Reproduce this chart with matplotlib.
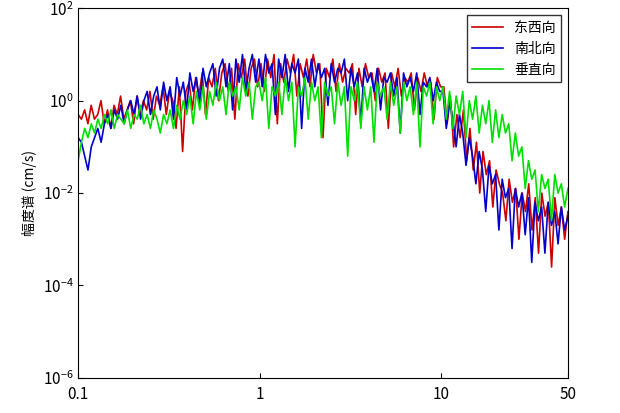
import matplotlib
matplotlib.use("Agg")
import matplotlib.pyplot as plt
import numpy as np

plt.rcParams["font.family"] = ["Noto Sans CJK SC", "DejaVu Sans"]

east_log = [
    -0.3, -0.4, -0.2, -0.5, -0.1, -0.4, -0.3, 0.0, -0.5, -0.2, -0.6, -0.1, -0.3, 0.1, -0.4, -0.2, 0.0, -0.5, 0.1, -0.3, 0.0,
    -0.2, 0.2, -0.4, 0.1, -0.1, 0.3, -0.3, 0.2, 0.0, -0.6, 0.3, -1.1, 0.2, 0.4, -0.2, 0.5, 0.1, 0.6, -0.3, 0.5,
    0.3, 0.7, 0.0, 0.6, 0.8, 0.2, 0.7, -0.4, 0.8, 0.5, 0.9, 0.1, 0.7, 0.9, 0.3,
    0.8, 0.2, 0.9, 0.5, 1.0, -0.5, 0.8, 0.4, 0.9, 0.6, 1.0, 0.1, 0.8, 0.5, 0.9, 0.3, 1.0, 0.6, 0.8, -0.8,
    0.7, 0.5, 0.9, 0.2, 0.8, 0.4, 0.7, 0.6, 0.8, -0.3, 0.7, 0.3, 0.8, 0.5, 0.6, 0.0, 0.7, 0.4, 0.6, -0.6,
    0.6, 0.3, 0.7, 0.1, 0.5, 0.4, 0.6, -0.2, 0.5, 0.2, 0.6, 0.3, 0.4, -0.4, 0.5, 0.3,
    0.3, -0.5, 0.1, -1.0, -0.3, -0.8, -0.2, -1.3, -0.6, -1.5, -0.9, -2.0, -1.1, -1.6, -1.3, -2.3, -1.5, -1.8, -2.0, -2.6,
    -1.7, -2.2, -1.9, -3.0, -2.0, -2.4, -1.8, -2.8, -2.1, -3.3, -2.0, -2.5, -2.2, -3.6, -2.1, -2.7, -2.3, -3.0, -2.4,
]
north_log = [
    -0.8, -0.9, -1.2, -1.5, -1.0, -0.8, -0.6, -0.9, -0.5, -0.3, -0.6, -0.2, -0.4, -0.1, -0.5, -0.2, 0.0, -0.3, 0.1, -0.4, 0.0,
    0.2, -0.3, 0.1, 0.3, -0.2, 0.4, 0.0, 0.3, -0.4, 0.5, 0.1, 0.4, -0.2, 0.6, 0.2, 0.5, -0.1, 0.7, 0.3,
    0.6, 0.8, 0.1, 0.7, 0.9, 0.3, 0.8, -0.2, 0.9, 0.4, 1.0, 0.2, 0.7, 1.0, 0.4,
    0.9, 0.3, 1.0, 0.6, 0.8, -0.3, 0.9, 0.5, 1.0, 0.2, 0.8, 0.6, 0.9, -0.6, 0.7, 0.4, 0.9, 0.3, 0.8, 0.5,
    0.7, -0.1, 0.8, 0.4, 0.7, 0.6, 0.9, 0.0, 0.7, 0.3, 0.6, -0.5, 0.7, 0.4, 0.6, 0.2, 0.7, -0.2, 0.5, 0.4,
    0.6, 0.1, 0.5, -0.7, 0.6, 0.3, 0.5, 0.2, 0.6, -0.3, 0.4, 0.3, 0.5, 0.0, 0.4, 0.2,
    0.2, -0.6, 0.0, -0.4, -1.0, -0.3, -0.7, -1.4, -0.8, -1.2, -1.8, -1.1, -1.5, -2.4, -1.4, -1.8, -1.6, -2.8, -1.7, -2.1,
    -1.9, -3.2, -1.9, -2.3, -2.0, -2.9, -2.1, -3.5, -2.2, -2.6, -2.3, -3.3, -2.2, -2.7, -2.4, -3.1, -2.3, -2.8, -2.5,
]
vertical_log = [
    -1.3, -0.9, -0.6, -0.8, -0.5, -0.7, -0.4, -0.6, -0.3, -0.5, -0.2, -0.6, -0.3, -0.4, -0.5, -0.2, -0.6, -0.3, -0.4, -0.1, -0.5,
    -0.3, -0.6, -0.2, -0.4, -0.7, -0.3, -0.5, -0.2, -0.6, -0.1, -0.4, 0.0, -0.3, 0.1, -0.5, 0.2, -0.2, 0.3, -0.4,
    0.2, -0.1, 0.4, 0.0, 0.3, -0.3, 0.4, 0.1, 0.3, -0.2, 0.5, 0.1, 0.4, -0.4, 0.3,
    0.4, 0.0, 0.5, -0.6, 0.3, 0.1, 0.4, -0.3, 0.5, 0.0, 0.4, -1.0, 0.3, 0.1, 0.5, -0.4, 0.4, 0.0, 0.3, -0.8,
    0.4, 0.1, 0.3, -0.5, 0.4, -0.1, 0.3, -1.2, 0.3, 0.0, 0.4, -0.6, 0.3, -0.2, 0.3, -0.9, 0.4, 0.1, 0.3, -0.4,
    0.4, -0.1, 0.3, -0.7, 0.4, 0.0, 0.3, -0.3, 0.4, -1.0, 0.3, 0.1, 0.4, -0.5, 0.3, 0.0,
    0.3, -0.4, 0.2, -0.6, 0.1, -0.3, 0.2, -0.8, 0.0, -0.4, 0.1, -0.7, -0.1, -0.5, 0.0, -0.9, -0.2, -0.8, -0.3, -0.7,
    -0.5, -1.3, -0.7, -1.2, -1.0, -1.9, -1.3, -1.7, -1.5, -2.4, -1.6, -1.9, -1.7, -2.6, -1.6, -2.0, -1.8, -2.3, -1.9,
]
labels = ["东西向", "南北向", "垂直向"]
colors = ["#cc0000", "#0000cc", "#00e000"]

fig = plt.figure(figsize=(6.2, 4.13), dpi=100)
ax = fig.add_axes([0.126, 0.085, 0.79, 0.895])
for vals, lab, col in zip([east_log, north_log, vertical_log], labels, colors):
    freq = np.geomspace(0.1, 50, len(vals))
    ax.plot(freq, 10.0 ** np.array(vals), color=col, lw=1.2, label=lab)

ax.set_xscale("log")
ax.set_yscale("log")
ax.set_xlim(0.1, 50)
ax.set_ylim(1e-6, 1e2)
ax.set_xticks([0.1, 1, 10, 50])
ax.set_xticklabels(["0.1", "1", "10", "50"])
ax.set_yticks([1e-6, 1e-4, 1e-2, 1e0, 1e2])
ax.minorticks_off()
ax.tick_params(labelsize=11, direction="in")
ax.tick_params(axis="x", pad=6)
ax.set_ylabel("幅度谱 (cm/s)", fontsize=10)
ax.legend(loc="upper right", fontsize=10, fancybox=False, edgecolor="black", handlelength=2.2)
fig.savefig("out.png", dpi=100)
